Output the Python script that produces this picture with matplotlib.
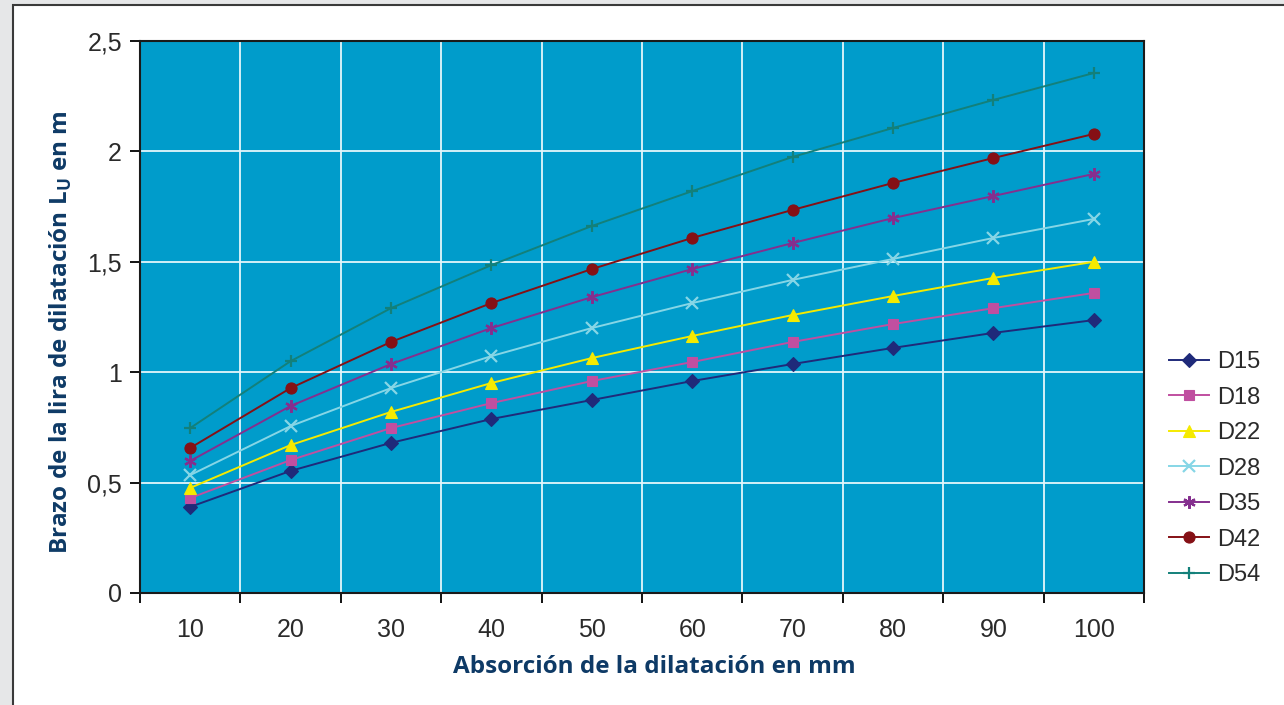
import matplotlib
matplotlib.use("Agg")
import matplotlib.pyplot as plt
from matplotlib.patches import Rectangle
from matplotlib.ticker import FixedLocator, FuncFormatter


categories = [10, 20, 30, 40, 50, 60, 70, 80, 90, 100]

d15 = [0.39, 0.553, 0.68, 0.788, 0.874, 0.96, 1.037, 1.11, 1.178, 1.236]
d18 = [0.43, 0.602, 0.747, 0.86, 0.96, 1.046, 1.137, 1.218, 1.29, 1.359]
d22 = [0.476, 0.67, 0.82, 0.951, 1.064, 1.164, 1.259, 1.345, 1.427, 1.5]
d28 = [0.534, 0.756, 0.928, 1.073, 1.2, 1.313, 1.418, 1.513, 1.608, 1.694]
d35 = [0.598, 0.847, 1.037, 1.2, 1.34, 1.467, 1.585, 1.698, 1.798, 1.898]
d42 = [0.657, 0.928, 1.137, 1.313, 1.467, 1.608, 1.735, 1.857, 1.97, 2.079]
d54 = [0.747, 1.05, 1.29, 1.485, 1.662, 1.82, 1.975, 2.106, 2.233, 2.355]

series_names = ["D15", "D18", "D22", "D28", "D35", "D42", "D54"]
series_values = [d15, d18, d22, d28, d35, d42, d54]

colors = ["#1f2a7a", "#c04fa0", "#f5ea00", "#86d6e6", "#842f8e", "#851015", "#13807a"]
markers = ["D", "s", "^", "x", (6, 2, 0), "o", "+"]
marker_sizes = [7, 7.5, 8.5, 8, 9, 8, 9]

LABEL_COLOR = "#0e3a66"
PLOT_BG = "#009ccb"
TEXT_COLOR = "#2a2a2a"


def main():
    fig = plt.figure(figsize=(12.84, 7.05), dpi=100)
    fig.patch.set_facecolor("#e6e7e8")
    # white panel with dark border, like the pasted chart frame
    fig.patches.append(Rectangle((13 / 1284, -0.01), 1.02, 1 - 5 / 705 + 0.01,
                                 transform=fig.transFigure, facecolor="white",
                                 edgecolor="#3a3a3a", linewidth=1.5, zorder=-10))

    ax = fig.add_axes([140 / 1284, 1 - 593 / 705, 1004 / 1284, 552 / 705])
    ax.set_facecolor(PLOT_BG)

    x = list(range(len(categories)))
    for name, vals, c, m, ms in zip(series_names, series_values, colors, markers, marker_sizes):
        ax.plot(x, vals, color=c, marker=m, markersize=ms, linewidth=1.4,
                markeredgewidth=1.6 if m in ("x", "+") or isinstance(m, tuple) else 0.8,
                markeredgecolor=c, markerfacecolor=c, label=name, zorder=3)

    ax.set_xlim(-0.5, len(categories) - 0.5)
    ax.set_ylim(0, 2.5)

    # category boundaries carry tick marks and gridlines, labels sit in the middle
    ax.xaxis.set_major_locator(FixedLocator([i - 0.5 for i in range(len(categories) + 1)]))
    ax.xaxis.set_minor_locator(FixedLocator(x))
    ax.xaxis.set_major_formatter(FuncFormatter(lambda v, p: ""))
    ax.xaxis.set_minor_formatter(FuncFormatter(lambda v, p: str(categories[int(round(v))])))
    ax.tick_params(axis="x", which="major", length=7, width=1.3, direction="out")
    ax.tick_params(axis="x", which="minor", length=0, pad=18, labelsize=18, labelcolor=TEXT_COLOR)

    ax.set_yticks([0, 0.5, 1, 1.5, 2, 2.5])
    ax.yaxis.set_major_formatter(FuncFormatter(lambda v, p: f"{v:g}".replace(".", ",")))
    ax.tick_params(axis="y", length=7, width=1.3, direction="out", pad=6,
                   labelsize=18, labelcolor=TEXT_COLOR)

    for lab in ax.get_xticklabels(minor=True) + ax.get_yticklabels():
        lab.set_fontfamily("Liberation Sans")

    ax.grid(True, which="major", color="#e4f6fb", linewidth=1.3)
    ax.set_axisbelow(True)
    for s in ax.spines.values():
        s.set_color("#1a1a1a")
        s.set_linewidth(1.5)

    ax.set_xlabel("Absorción de la dilatación en mm", fontsize=17.5, fontweight="bold",
                  color=LABEL_COLOR, family="Open Sans")
    ax.xaxis.set_label_coords(0.512, -0.113)
    ax.set_ylabel("Brazo de la lira de dilatación L$_\\mathregular{U}$ en m", fontsize=17.5,
                  fontweight="bold", color=LABEL_COLOR, family="Open Sans")
    ax.yaxis.set_label_coords(-0.066, 0.472)

    leg = ax.legend(loc="upper left", bbox_to_anchor=(1148 / 1284, 1 - 330 / 705),
                    bbox_transform=fig.transFigure, frameon=False,
                    handlelength=1.7, handletextpad=0.34, labelspacing=0.57,
                    prop={"family": "Liberation Sans", "size": 17})
    for t in leg.get_texts():
        t.set_color(TEXT_COLOR)

    fig.savefig("out.png", dpi=100, facecolor=fig.get_facecolor())
    plt.close(fig)


if __name__ == "__main__":
    main()
